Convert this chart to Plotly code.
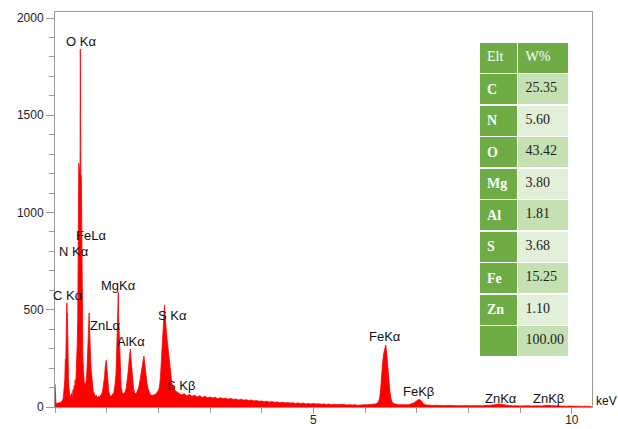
import plotly.graph_objects as go

# ---- spectrum data (keV, counts) ----
energy_kev = [
    0.00, 0.01, 0.02, 0.04, 0.06, 0.08, 0.10, 0.12, 0.14, 0.16, 0.18, 0.19, 0.20, 0.21, 0.22, 0.23, 0.235, 0.24,
    0.245, 0.25, 0.26, 0.27, 0.28, 0.29, 0.30, 0.31, 0.32, 0.33, 0.34, 0.35, 0.36, 0.37, 0.38, 0.39, 0.40, 0.41,
    0.42, 0.43, 0.44, 0.445, 0.45, 0.46, 0.47, 0.48, 0.485, 0.49, 0.495, 0.50, 0.51, 0.52, 0.53, 0.54, 0.55, 0.56,
    0.57, 0.58, 0.59, 0.60, 0.61, 0.62, 0.63, 0.64, 0.65, 0.66, 0.67, 0.68, 0.69, 0.70, 0.71, 0.72, 0.73, 0.74,
    0.76, 0.78, 0.80, 0.82, 0.84, 0.86, 0.88, 0.90, 0.92, 0.94, 0.96, 0.97, 0.98, 0.99, 1.00, 1.01, 1.02, 1.03,
    1.04, 1.06, 1.08, 1.10, 1.12, 1.14, 1.16, 1.18, 1.19, 1.20, 1.21, 1.22, 1.225, 1.23, 1.24, 1.25, 1.26, 1.27,
    1.28, 1.30, 1.32, 1.34, 1.36, 1.38, 1.40, 1.42, 1.44, 1.45, 1.46, 1.47, 1.48, 1.49, 1.50, 1.52, 1.54, 1.56,
    1.58, 1.60, 1.62, 1.64, 1.66, 1.68, 1.70, 1.71, 1.72, 1.73, 1.74, 1.76, 1.78, 1.80, 1.82, 1.84, 1.86, 1.88,
    1.90, 1.92, 1.94, 1.96, 1.98, 2.00, 2.02, 2.04, 2.06, 2.08, 2.09, 2.10, 2.11, 2.12, 2.13, 2.14, 2.15, 2.16,
    2.18, 2.20, 2.22, 2.24, 2.26, 2.28, 2.30, 2.32, 2.34, 2.36, 2.38,
    2.40, 2.45, 2.50, 2.55, 2.60, 2.65, 2.70, 2.75, 2.80, 2.85, 2.90, 2.95, 3.00, 3.05, 3.10, 3.15, 3.20, 3.25,
    3.30, 3.35, 3.40, 3.45, 3.50, 3.55, 3.60, 3.65, 3.70, 3.75, 3.80, 3.85, 3.90, 3.95, 4.00, 4.05, 4.10, 4.15,
    4.20, 4.25, 4.30, 4.35, 4.40, 4.45, 4.50, 4.55, 4.60, 4.65, 4.70, 4.75, 4.80, 4.85, 4.90, 4.95, 5.00, 5.05,
    5.10, 5.15, 5.20, 5.25, 5.30, 5.35, 5.40, 5.45, 5.50, 5.55, 5.60, 5.65, 5.70, 5.75, 5.80, 5.85, 5.90, 5.95,
    6.00, 6.05, 6.10, 6.15, 6.20, 6.25, 6.28, 6.30, 6.32, 6.34, 6.36, 6.38, 6.40, 6.42, 6.44, 6.46, 6.48, 6.50,
    6.52, 6.55, 6.60, 6.65, 6.70, 6.75, 6.80, 6.85, 6.90, 6.95, 7.00, 7.03, 7.05, 7.08, 7.10, 7.13, 7.17, 7.20,
    7.25, 7.30, 7.35, 7.40, 7.45, 7.50, 7.55, 7.60, 7.65, 7.70, 7.75, 7.80, 7.85, 7.90, 7.95, 8.00, 8.05, 8.10,
    8.15, 8.20, 8.25, 8.30, 8.35, 8.40, 8.45, 8.50, 8.55, 8.60, 8.65, 8.70, 8.75, 8.80, 8.85, 8.90, 8.95, 9.00,
    9.05, 9.10, 9.15, 9.20, 9.25, 9.30, 9.35, 9.40, 9.45, 9.50, 9.55, 9.60, 9.65, 9.70, 9.75, 9.80, 9.85, 9.90,
    9.95, 10.00, 10.05, 10.10, 10.15, 10.20, 10.25, 10.30, 10.35, 10.38,
]
counts = [
    120, 25, 15, 18, 22, 20, 25, 28, 30, 45, 90, 140, 245, 250, 420, 535, 470, 480,
    300, 220, 150, 100, 70, 50, 60, 40, 70, 45, 60, 90, 70, 110, 80, 140, 100, 160,
    210, 320, 450, 700, 1250, 1255, 1230, 1200, 1210, 1840, 1200, 1200, 1180, 700, 400, 260, 180, 140,
    110, 125, 100, 130, 150, 200, 320, 330, 400, 483, 360, 300, 240, 190, 150, 120, 95, 80,
    70, 55, 60, 48, 55, 50, 60, 65, 80, 110, 160, 200, 235, 240, 215, 180, 130, 100,
    80, 62, 55, 58, 65, 75, 110, 170, 250, 350, 450, 520, 590, 470, 380, 260, 180, 130,
    100, 75, 68, 70, 80, 100, 140, 190, 260, 280, 298, 250, 210, 170, 130, 95, 75, 68,
    72, 85, 100, 130, 160, 200, 240, 255, 262, 240, 210, 160, 120, 95, 75, 65, 60, 62,
    58, 65, 62, 70, 75, 85, 100, 150, 250, 370, 420, 460, 490, 524, 470, 420, 390, 370,
    320, 270, 210, 160, 125, 105, 95, 85, 80, 78, 72,
    70, 62, 68, 57, 64, 55, 61, 52, 58, 49, 55, 47, 51, 46, 50, 42, 48, 43,
    45, 40, 44, 39, 41, 36, 40, 35, 37, 33, 36, 31, 33, 29, 31, 27, 30, 25,
    28, 24, 26, 22, 25, 21, 23, 20, 22, 18, 21, 17, 20, 16, 18, 15, 18, 15,
    17, 14, 16, 13, 15, 12, 14, 12, 13, 11, 13, 10, 12, 10, 12, 9, 11, 10,
    12, 11, 12, 14, 16, 22, 45, 90, 175, 230, 275, 300, 319, 270, 190, 130, 79, 45,
    27, 18, 13, 11, 12, 10, 11, 12, 15, 22, 32, 38, 40, 34, 26, 16, 11, 10,
    9, 8, 9, 7, 8, 7, 8, 6, 8, 7, 6, 8, 6, 7, 6, 7, 6, 7,
    6, 7, 6, 7, 8, 7, 9, 11, 14, 16, 13, 10, 8, 7, 6, 7, 6, 5,
    6, 5, 6, 5, 6, 5, 6, 5, 7, 8, 9, 7, 6, 5, 6, 5, 5, 4,
    5, 4, 5, 4, 4, 3, 4, 3, 3, 3,
]

# ---- peak labels ----
peak_labels = ["O K\u03b1", "FeL\u03b1", "N K\u03b1", "C K\u03b1", "MgK\u03b1", "ZnL\u03b1", "AlK\u03b1",
               "S K\u03b1", "S K\u03b2", "FeK\u03b1", "FeK\u03b2", "ZnK\u03b1", "ZnK\u03b2"]
label_kev = [0.50, 0.687, 0.364, 0.257, 1.225, 0.967, 1.467, 2.279, 2.434, 6.393, 7.035, 8.62, 9.55]
label_counts = [1877, 884, 798, 572, 624, 421, 336, 473, 110, 361, 79, 45, 45]

# ---- composition table ----
table_elements = ["C", "N", "O", "Mg", "Al", "S", "Fe", "Zn", ""]
table_wt = ["25.35", "5.60", "43.42", "3.80", "1.81", "3.68", "15.25", "1.10", "100.00"]
table_header = ["Elt", "W%"]

y_ticks = [0, 500, 1000, 1500, 2000]
x_ticks = [5, 10]

DARK = "#6FAC46"
LIGHT = "#C5E0B3"
LIGHTER = "#E2EFD9"

fig = go.Figure()
fig.add_trace(go.Scatter(
    x=energy_kev, y=counts, mode="lines", fill="tozeroy",
    line=dict(color="#FF0000", width=0.8), fillcolor="#FF0000",
    hoverinfo="skip", showlegend=False,
))

fig.add_trace(go.Table(
    domain=dict(x=[0.7896, 0.959], y=[0.1266, 0.924]),
    columnwidth=[39, 52],
    header=dict(
        values=table_header, fill_color=DARK, align="left", height=31.5,
        line=dict(color="white", width=1.5),
        font=dict(family="Liberation Serif", size=14, color="white"),
    ),
    cells=dict(
        values=[["<b>%s</b>" % e for e in table_elements], table_wt],
        fill_color=[[DARK] * len(table_elements),
                    [LIGHT if i % 2 == 0 else LIGHTER for i in range(len(table_wt))]],
        align="left", height=31.5,
        line=dict(color="white", width=1.5),
        font=dict(family="Liberation Serif", size=14, color=["white", "#222222"]),
    ),
))

for t, xv, yv in zip(peak_labels, label_kev, label_counts):
    fig.add_annotation(x=xv, y=yv, text=t, showarrow=False, xanchor="center", yanchor="middle",
                       font=dict(family="Liberation Sans, Arial", size=13, color="#111111"))

fig.add_annotation(x=1.027, y=0.015, xref="paper", yref="paper", text="keV", showarrow=False,
                   xanchor="center", yanchor="middle",
                   font=dict(family="Liberation Sans, Arial", size=12, color="#111111"))

axis_color = "#9a9a9a"
fig.update_layout(
    template="none",
    width=618, height=429,
    margin=dict(l=55, r=26, t=12, b=22),
    paper_bgcolor="white", plot_bgcolor="white",
    showlegend=False,
    xaxis=dict(
        range=[0, 10.39], showgrid=False, zeroline=False, automargin=False,
        showline=True, linecolor=axis_color, linewidth=1, mirror=True,
        tickmode="array", tickvals=x_ticks, ticks="outside", ticklen=6, tickcolor=axis_color,
        ticklabelstandoff=-4,
        tickfont=dict(family="Liberation Sans, Arial", size=12, color="#222222"),
        minor=dict(dtick=1, tick0=0, ticks="outside", ticklen=5, tickcolor=axis_color, showgrid=False),
    ),
    yaxis=dict(
        range=[0, 2031], showgrid=False, zeroline=False, automargin=False,
        showline=True, linecolor=axis_color, linewidth=1, mirror=True,
        tickmode="array", tickvals=y_ticks, ticks="outside", ticklen=8, tickcolor=axis_color,
        tickfont=dict(family="Liberation Sans, Arial", size=12, color="#222222"),
        minor=dict(dtick=100, tick0=0, ticks="outside", ticklen=5, tickcolor=axis_color, showgrid=False),
    ),
)

fig.write_html(
    "out.html",
    config={"displayModeBar": False},
    post_script="document.body.style.margin='0px';document.body.style.padding='0px';",
)
